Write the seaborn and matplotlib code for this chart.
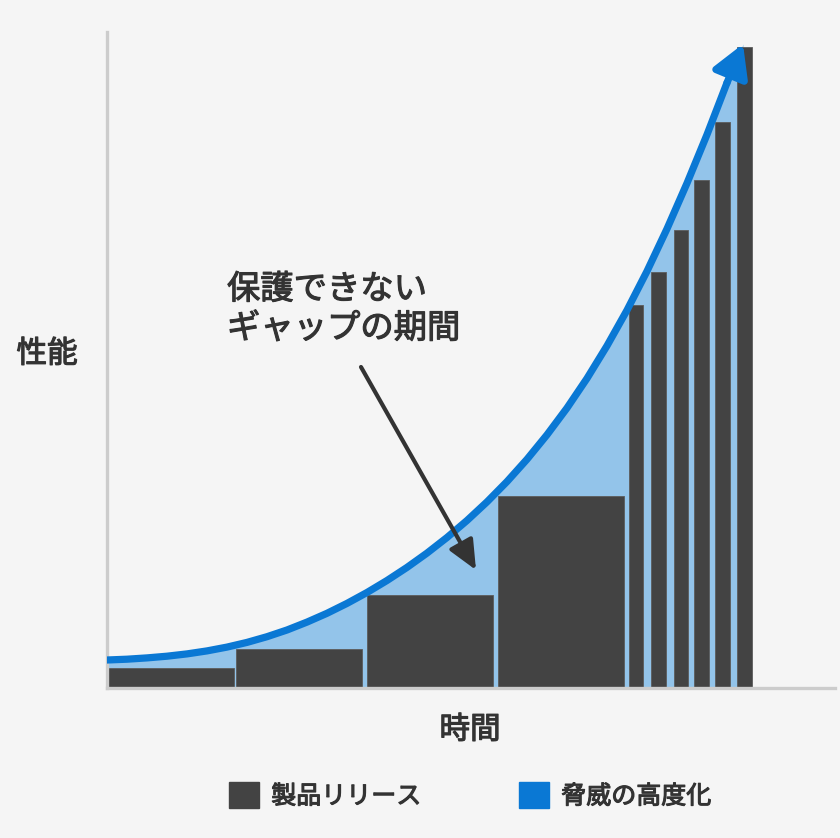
import matplotlib
matplotlib.use('Agg')
import matplotlib.pyplot as plt
import matplotlib.patheffects as pe
from matplotlib.patches import Patch
import pandas as pd
import seaborn as sns

# DATA (time axis and performance axis in chart units)
bar_left = [1, 129, 260, 391, 522, 544, 567, 587, 608, 630]
bar_width = [126, 126, 126, 126, 14, 15, 14, 15, 15, 15]
bar_height = [20, 39, 93, 192, 383, 416, 458, 508, 566, 641]

threat_x = [0, 20, 40, 60, 80, 100, 120, 140, 160, 180, 200, 220, 240, 260,
            280, 300, 320, 340, 360, 380, 400, 420, 440, 460, 480, 500, 520,
            540, 560, 580, 600, 620]
threat_y = [28, 28.8, 30.1, 31.8, 34.1, 37.1, 40.9, 45.6, 51.3, 58.0, 65.9,
            74.7, 84.6, 95.5, 107.5, 120.6, 134.9, 150.5, 167.5, 186.1, 206.4,
            228.7, 253.2, 280.0, 309.6, 342.2, 377.8, 416.8, 459.2, 504.8,
            553.4, 605.2]
threat_tip = (636, 644)

gap_label = '保護できない\nギャップの期間'
x_label = '時間'
y_label = '性能'
legend_labels = ['製品リリース', '脅威の高度化']

# COLORS
bg = '#f5f5f5'
dark = '#434343'
blue = '#0a78d4'
light_blue = '#93c4ea'
text_col = '#333333'

sns.set_theme(style='white', rc={'figure.facecolor': bg, 'axes.facecolor': bg})
plt.rcParams['font.family'] = ['Noto Sans CJK JP', 'DejaVu Sans']

# slightly heavier than regular, closer to a medium weight
medium = [pe.withStroke(linewidth=0.8, foreground=text_col)]

fig = plt.figure(figsize=(8.4, 8.38), dpi=100)
ax = fig.add_axes([107 / 840, 1 - 688 / 838, 728 / 840, 656 / 838])

curve = pd.DataFrame({'t': threat_x + [threat_tip[0]],
                      'perf': threat_y + [threat_tip[1]]})

# FILL UNDER THREAT CURVE
ax.fill_between(curve['t'], 0, curve['perf'], color=light_blue, lw=0, zorder=1)

# PRODUCT RELEASE BARS
ax.bar(bar_left, bar_height, width=bar_width, align='edge', color=dark,
       edgecolor='#5c5c5c', linewidth=0.6, zorder=2)

# THREAT CURVE
sns.lineplot(data=curve.iloc[:-1], x='t', y='perf', color=blue, lw=5.2,
             ax=ax, zorder=3, sort=False, solid_joinstyle='round')
ax.annotate('', xy=threat_tip, xytext=(threat_x[-1], threat_y[-1]),
            arrowprops=dict(arrowstyle='-|>,head_length=0.4,head_width=0.23',
                            mutation_scale=48, color=blue, lw=5.2,
                            shrinkA=0, shrinkB=0), zorder=4)

# GAP ANNOTATION
ax.annotate('', xy=(369, 118), xytext=(254, 321),
            arrowprops=dict(arrowstyle='-|>,head_length=0.4,head_width=0.18',
                            mutation_scale=45, color=text_col, lw=3,
                            shrinkA=0, shrinkB=0), zorder=5)
ax.text(120, 379, gap_label, fontsize=24, color=text_col, ha='left',
        va='center', linespacing=1.15, zorder=6, path_effects=medium)

ax.set_xlim(0, 728)
ax.set_ylim(0, 656)
ax.set_xticks([])
ax.set_yticks([])
ax.set_xlabel('')
ax.set_ylabel('')
for side in ['top', 'right']:
    ax.spines[side].set_visible(False)
for side in ['left', 'bottom']:
    ax.spines[side].set_color('#cccccc')
    ax.spines[side].set_linewidth(2.4)

fig.text(47 / 840, 1 - 354 / 838, y_label, fontsize=22, color=text_col,
         ha='center', va='center', path_effects=medium)
fig.text(470 / 840, 1 - 730 / 838, x_label, fontsize=22, color=text_col,
         ha='center', va='center', path_effects=medium)

handles = [Patch(color=dark), Patch(color=blue)]
leg = fig.legend(handles, legend_labels, loc='center',
                 bbox_to_anchor=(470 / 840, 1 - 796 / 838),
                 ncol=2, frameon=False, fontsize=18, handlelength=1.2,
                 handleheight=1.2, handletextpad=0.5, columnspacing=3.9,
                 labelcolor=text_col)
for t in leg.get_texts():
    t.set_path_effects(medium)

fig.savefig('out.png', dpi=100, facecolor=bg)
